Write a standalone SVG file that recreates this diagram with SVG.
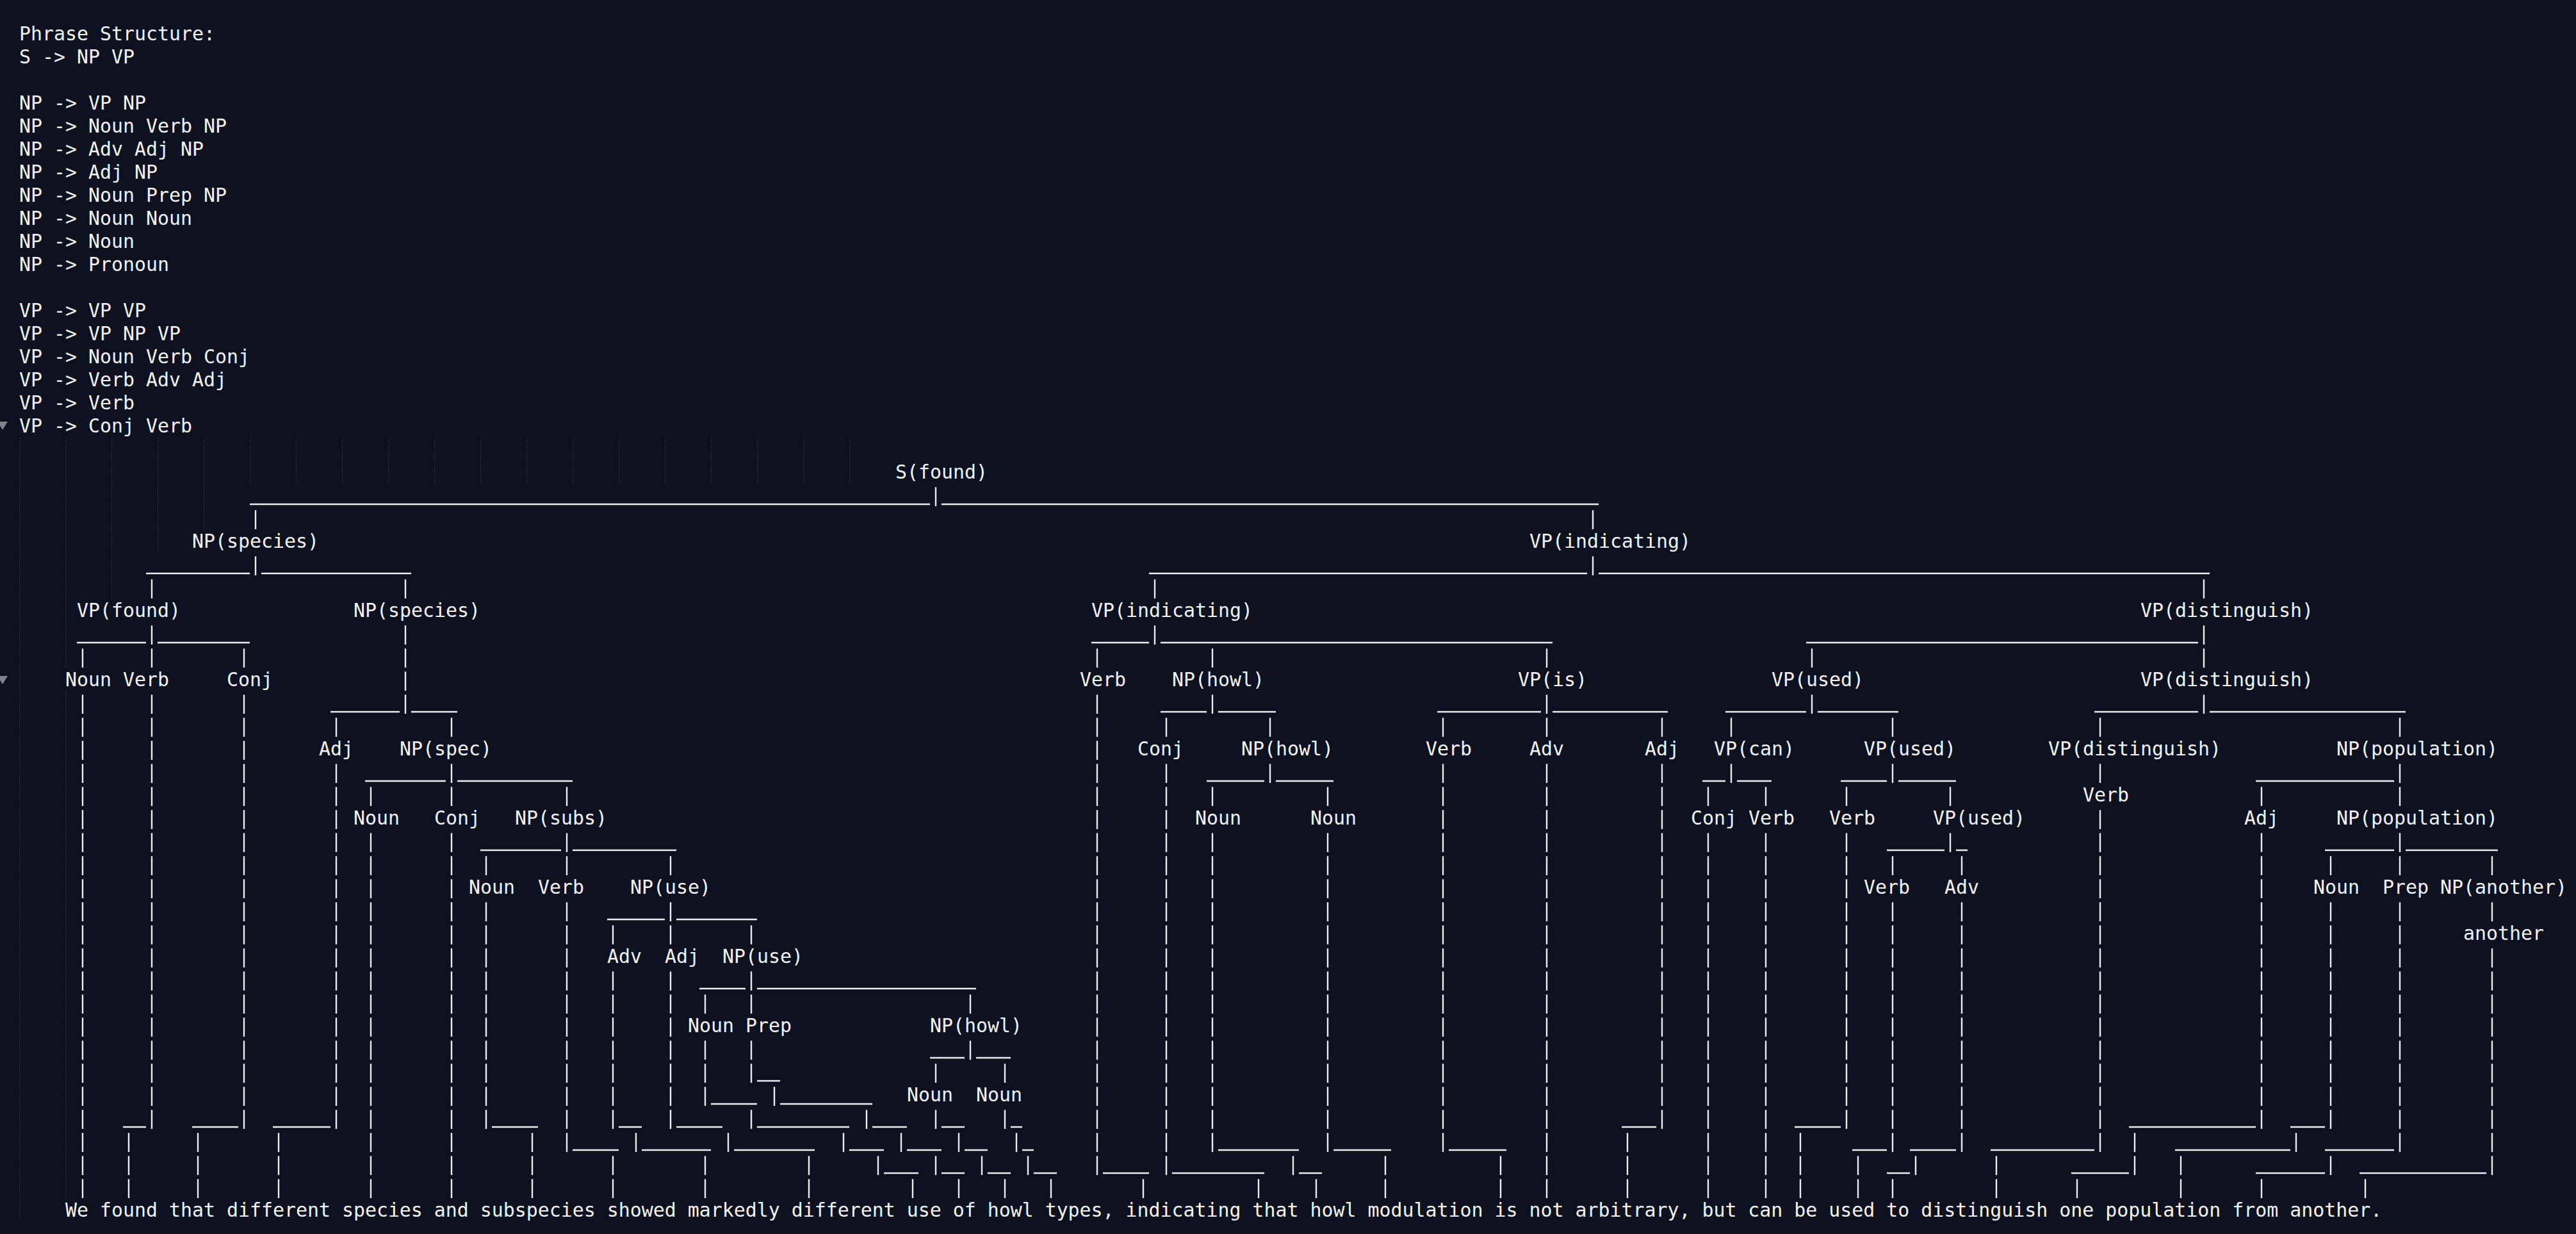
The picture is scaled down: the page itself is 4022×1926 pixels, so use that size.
<svg xmlns="http://www.w3.org/2000/svg" width="4022" height="1926" viewBox="0 0 4022 1926">
<style>
.t{font-family:"DejaVu Sans Mono","Liberation Mono",monospace;font-size:29.9px;fill:#f4f4f4}
.p{stroke:#ededed;stroke-width:2.4;stroke-dasharray:29.7 6.3;fill:none}
.u{stroke:#ededed;stroke-width:2.6;fill:none}
.g{stroke:#3a3e4d;stroke-width:1.2;stroke-dasharray:1.5 2;fill:none}
</style>
<rect width="4022" height="1926" fill="#0e1120"/>
<g id="indent-guides" class="g">
<path d="M30.5 683V1907"/>
<path d="M102.5 683V1043"/><path d="M102.5 1079V1871"/>
<path d="M174.5 683V935"/>
<path d="M246.5 683V863"/>
<path d="M318.5 683V827"/>
<path d="M390.5 683V755M462.5 683V755M534.5 683V755M606.5 683V755M678.5 683V755M750.5 683V755M822.5 683V755M894.5 683V755M966.5 683V755M1038.5 683V755M1110.5 683V755M1182.5 683V755M1254.5 683V755M1326.5 683V755"/>
</g>
<g id="fold-markers" fill="#80838c">
<polygon points="-4,658 12,658 4,671"/>
<polygon points="-4,1055 12,1055 4,1068"/>
</g>
<g id="grammar" class="t">
<text x="30" y="63">Phrase Structure:</text>
<text x="30" y="99">S -&gt; NP VP</text>
<text x="30" y="171">NP -&gt; VP NP</text>
<text x="30" y="207">NP -&gt; Noun Verb NP</text>
<text x="30" y="243">NP -&gt; Adv Adj NP</text>
<text x="30" y="279">NP -&gt; Adj NP</text>
<text x="30" y="315">NP -&gt; Noun Prep NP</text>
<text x="30" y="351">NP -&gt; Noun Noun</text>
<text x="30" y="387">NP -&gt; Noun</text>
<text x="30" y="423">NP -&gt; Pronoun</text>
<text x="30" y="495">VP -&gt; VP VP</text>
<text x="30" y="531">VP -&gt; VP NP VP</text>
<text x="30" y="567">VP -&gt; Noun Verb Conj</text>
<text x="30" y="603">VP -&gt; Verb Adv Adj</text>
<text x="30" y="639">VP -&gt; Verb</text>
<text x="30" y="675">VP -&gt; Conj Verb</text>
</g>
<g id="connectors">
<g class="u">
<path d="M390 787H1452M1470 787H2496"/>
<path d="M228 895H390M408 895H642M1794 895H2478M2496 895H3450"/>
<path d="M120 1003H228M246 1003H390M1704 1003H1794M1812 1003H2424M2820 1003H3432"/>
<path d="M516 1111H624M642 1111H714M1812 1111H1884M1902 1111H1992M2244 1111H2406M2424 1111H2604M2694 1111H2820M2838 1111H2964M3270 1111H3432M3450 1111H3756"/>
<path d="M570 1219H696M714 1219H894M1884 1219H1974M1992 1219H2082M2658 1219H2694M2712 1219H2766M2874 1219H2946M2964 1219H3054M3522 1219H3738"/>
<path d="M750 1327H876M894 1327H1056M2946 1327H3036M3054 1327H3072M3630 1327H3738M3756 1327H3900"/>
<path d="M948 1435H1038M1056 1435H1182"/>
<path d="M1092 1543H1164M1182 1543H1524"/>
<path d="M1452 1651H1506M1524 1651H1578"/>
<path d="M1182 1687H1218"/>
<path d="M1110 1723H1182M1218 1723H1362"/>
<path d="M192 1759H228M300 1759H372M426 1759H516M768 1759H840M966 1759H1002M1056 1759H1128M1182 1759H1326M1362 1759H1416M1470 1759H1506M1578 1759H1596M2532 1759H2586M2802 1759H2874M3324 1759H3522M3576 1759H3630"/>
<path d="M894 1795H966M1002 1795H1110M1146 1795H1272M1326 1795H1380M1416 1795H1470M1506 1795H1542M1596 1795H1614M1902 1795H2028M2082 1795H2172M2262 1795H2352M2892 1795H2946M2982 1795H3054M3108 1795H3270M3396 1795H3576M3630 1795H3738"/>
<path d="M1380 1831H1434M1470 1831H1506M1542 1831H1578M1614 1831H1650M1722 1831H1794M1830 1831H1974M2028 1831H2064M2946 1831H2982M3234 1831H3324M3522 1831H3630M3684 1831H3882"/>
</g>
<g class="p">
<path d="M1461 760.3V790"/><path d="M1461 1660.3V1690"/><path d="M1461 1732.3V1762"/><path d="M1461 1804.3V1834"/>
<path d="M399 796.3V826"/><path d="M399 868.3V898"/>
<path d="M2487 796.3V826"/><path d="M2487 868.3V898"/>
<path d="M237 904.3V934"/><path d="M237 976.3V1042"/><path d="M237 1084.3V1762"/>
<path d="M633 904.3V934"/><path d="M633 976.3V1114"/>
<path d="M1803 904.3V934"/><path d="M1803 976.3V1006"/>
<path d="M3441 904.3V934"/><path d="M3441 976.3V1042"/><path d="M3441 1084.3V1114"/>
<path d="M129 1012.3V1042"/><path d="M129 1084.3V1870"/>
<path d="M381 1012.3V1042"/><path d="M381 1084.3V1762"/>
<path d="M1713 1012.3V1042"/><path d="M1713 1084.3V1834"/>
<path d="M1893 1012.3V1042"/><path d="M1893 1084.3V1114"/><path d="M1893 1228.3V1258"/><path d="M1893 1300.3V1798"/>
<path d="M2415 1012.3V1042"/><path d="M2415 1084.3V1150"/><path d="M2415 1192.3V1870"/>
<path d="M2829 1012.3V1042"/><path d="M2829 1084.3V1114"/>
<path d="M525 1120.3V1150"/><path d="M525 1192.3V1762"/>
<path d="M705 1120.3V1150"/><path d="M705 1192.3V1258"/><path d="M705 1300.3V1870"/>
<path d="M1821 1120.3V1150"/><path d="M1821 1192.3V1834"/>
<path d="M1983 1120.3V1150"/><path d="M1983 1192.3V1222"/>
<path d="M2253 1120.3V1150"/><path d="M2253 1192.3V1798"/>
<path d="M2595 1120.3V1150"/><path d="M2595 1192.3V1762"/>
<path d="M2703 1120.3V1150"/><path d="M2703 1192.3V1222"/>
<path d="M2955 1120.3V1150"/><path d="M2955 1192.3V1222"/><path d="M2955 1336.3V1366"/><path d="M2955 1408.3V1798"/><path d="M2955 1840.3V1870"/>
<path d="M3279 1120.3V1150"/><path d="M3279 1192.3V1222"/><path d="M3279 1264.3V1798"/>
<path d="M3747 1120.3V1150"/><path d="M3747 1192.3V1258"/><path d="M3747 1300.3V1366"/><path d="M3747 1408.3V1798"/>
<path d="M579 1228.3V1258"/><path d="M579 1300.3V1870"/>
<path d="M885 1228.3V1258"/><path d="M885 1300.3V1366"/><path d="M885 1408.3V1798"/>
<path d="M2073 1228.3V1258"/><path d="M2073 1300.3V1798"/>
<path d="M2667 1228.3V1258"/><path d="M2667 1300.3V1870"/>
<path d="M2757 1228.3V1258"/><path d="M2757 1300.3V1870"/>
<path d="M2883 1228.3V1258"/><path d="M2883 1300.3V1762"/>
<path d="M3045 1228.3V1258"/><path d="M3045 1300.3V1330"/>
<path d="M3531 1228.3V1258"/><path d="M3531 1300.3V1762"/><path d="M3531 1840.3V1870"/>
<path d="M759 1336.3V1366"/><path d="M759 1408.3V1762"/>
<path d="M1047 1336.3V1366"/><path d="M1047 1408.3V1474"/><path d="M1047 1516.3V1762"/>
<path d="M3063 1336.3V1366"/><path d="M3063 1408.3V1798"/>
<path d="M3639 1336.3V1366"/><path d="M3639 1408.3V1762"/><path d="M3639 1804.3V1834"/>
<path d="M3891 1336.3V1366"/><path d="M3891 1408.3V1438"/><path d="M3891 1480.3V1834"/>
<path d="M957 1444.3V1474"/><path d="M957 1516.3V1762"/><path d="M957 1804.3V1870"/>
<path d="M1173 1444.3V1474"/><path d="M1173 1516.3V1582"/><path d="M1173 1624.3V1690"/><path d="M1173 1732.3V1762"/>
<path d="M1101 1552.3V1582"/><path d="M1101 1624.3V1726"/><path d="M1101 1804.3V1870"/>
<path d="M1515 1552.3V1582"/><path d="M1515 1624.3V1654"/>
<path d="M1569 1660.3V1690"/><path d="M1569 1732.3V1762"/><path d="M1569 1840.3V1870"/>
<path d="M1209 1696.3V1726"/>
<path d="M1353 1732.3V1762"/>
<path d="M1407 1768.3V1798"/>
<path d="M1497 1768.3V1798"/><path d="M1497 1840.3V1870"/>
<path d="M1533 1804.3V1834"/>
<path d="M1587 1768.3V1798"/>
<path d="M1605 1804.3V1834"/>
<path d="M1641 1840.3V1870"/>
<path d="M201 1768.3V1870"/>
<path d="M309 1768.3V1870"/>
<path d="M435 1768.3V1870"/>
<path d="M831 1768.3V1870"/>
<path d="M993 1768.3V1798"/>
<path d="M1137 1768.3V1798"/>
<path d="M1263 1804.3V1870"/>
<path d="M1317 1768.3V1798"/>
<path d="M1371 1804.3V1834"/>
<path d="M1425 1840.3V1870"/>
<path d="M1785 1840.3V1870"/>
<path d="M1965 1840.3V1870"/>
<path d="M2019 1804.3V1834"/>
<path d="M2055 1840.3V1870"/>
<path d="M2163 1804.3V1870"/>
<path d="M2343 1804.3V1870"/>
<path d="M2541 1768.3V1870"/>
<path d="M2811 1768.3V1870"/>
<path d="M2901 1804.3V1870"/>
<path d="M2991 1804.3V1834"/>
<path d="M3117 1804.3V1870"/>
<path d="M3243 1840.3V1870"/>
<path d="M3333 1768.3V1834"/>
<path d="M3405 1804.3V1870"/>
<path d="M3585 1768.3V1798"/>
<path d="M3693 1840.3V1870"/>
</g>
</g>
<g id="nodes" class="t">
<g id="n-s-found"><text x="1398" y="747">S(found)</text></g>
<g id="n-np-species-1"><text x="300" y="855">NP(species)</text></g>
<g id="n-vp-indicating-1"><text x="2388" y="855">VP(indicating)</text></g>
<g id="n-vp-found"><text x="120" y="963">VP(found)</text></g>
<g id="n-np-species-2"><text x="552" y="963">NP(species)</text></g>
<g id="n-vp-indicating-2"><text x="1704" y="963">VP(indicating)</text></g>
<g id="n-vp-distinguish-1"><text x="3342" y="963">VP(distinguish)</text></g>
<g id="n-noun-we"><text x="102" y="1071">Noun</text></g>
<g id="n-verb-found"><text x="192" y="1071">Verb</text></g>
<g id="n-conj-that"><text x="354" y="1071">Conj</text></g>
<g id="n-verb-indicating"><text x="1686" y="1071">Verb</text></g>
<g id="n-np-howl-1"><text x="1830" y="1071">NP(howl)</text></g>
<g id="n-vp-is"><text x="2370" y="1071">VP(is)</text></g>
<g id="n-vp-used-1"><text x="2766" y="1071">VP(used)</text></g>
<g id="n-vp-distinguish-2"><text x="3342" y="1071">VP(distinguish)</text></g>
<g id="n-adj-different-1"><text x="498" y="1179">Adj</text></g>
<g id="n-np-spec"><text x="624" y="1179">NP(spec)</text></g>
<g id="n-conj-that-2"><text x="1776" y="1179">Conj</text></g>
<g id="n-np-howl-2"><text x="1938" y="1179">NP(howl)</text></g>
<g id="n-verb-is"><text x="2226" y="1179">Verb</text></g>
<g id="n-adv-not"><text x="2388" y="1179">Adv</text></g>
<g id="n-adj-arbitrary"><text x="2568" y="1179">Adj</text></g>
<g id="n-vp-can"><text x="2676" y="1179">VP(can)</text></g>
<g id="n-vp-used-2"><text x="2910" y="1179">VP(used)</text></g>
<g id="n-vp-distinguish-3"><text x="3198" y="1179">VP(distinguish)</text></g>
<g id="n-np-population-1"><text x="3648" y="1179">NP(population)</text></g>
<g id="n-verb-distinguish"><text x="3252" y="1251">Verb</text></g>
<g id="n-noun-species"><text x="552" y="1287">Noun</text></g>
<g id="n-conj-and"><text x="678" y="1287">Conj</text></g>
<g id="n-np-subs"><text x="804" y="1287">NP(subs)</text></g>
<g id="n-noun-howl-2"><text x="1866" y="1287">Noun</text></g>
<g id="n-noun-modulation"><text x="2046" y="1287">Noun</text></g>
<g id="n-conj-but"><text x="2640" y="1287">Conj</text></g>
<g id="n-verb-can"><text x="2730" y="1287">Verb</text></g>
<g id="n-verb-be"><text x="2856" y="1287">Verb</text></g>
<g id="n-vp-used-3"><text x="3018" y="1287">VP(used)</text></g>
<g id="n-adj-one"><text x="3504" y="1287">Adj</text></g>
<g id="n-np-population-2"><text x="3648" y="1287">NP(population)</text></g>
<g id="n-noun-subspecies"><text x="732" y="1395">Noun</text></g>
<g id="n-verb-showed"><text x="840" y="1395">Verb</text></g>
<g id="n-np-use-1"><text x="984" y="1395">NP(use)</text></g>
<g id="n-verb-used"><text x="2910" y="1395">Verb</text></g>
<g id="n-adv-to"><text x="3036" y="1395">Adv</text></g>
<g id="n-noun-population"><text x="3612" y="1395">Noun</text></g>
<g id="n-prep-from"><text x="3720" y="1395">Prep</text></g>
<g id="n-np-another"><text x="3810" y="1395">NP(another)</text></g>
<g id="n-another"><text x="3846" y="1467">another</text></g>
<g id="n-adv-markedly"><text x="948" y="1503">Adv</text></g>
<g id="n-adj-different-2"><text x="1038" y="1503">Adj</text></g>
<g id="n-np-use-2"><text x="1128" y="1503">NP(use)</text></g>
<g id="n-noun-use"><text x="1074" y="1611">Noun</text></g>
<g id="n-prep-of"><text x="1164" y="1611">Prep</text></g>
<g id="n-np-howl-3"><text x="1452" y="1611">NP(howl)</text></g>
<g id="n-noun-howl-1"><text x="1416" y="1719">Noun</text></g>
<g id="n-noun-types"><text x="1524" y="1719">Noun</text></g>
<g id="n-sentence"><text x="102" y="1899">We found that different species and subspecies showed markedly different use of howl types, indicating that howl modulation is not arbitrary, but can be used to distinguish one population from another.</text></g>
</g>
</svg>
